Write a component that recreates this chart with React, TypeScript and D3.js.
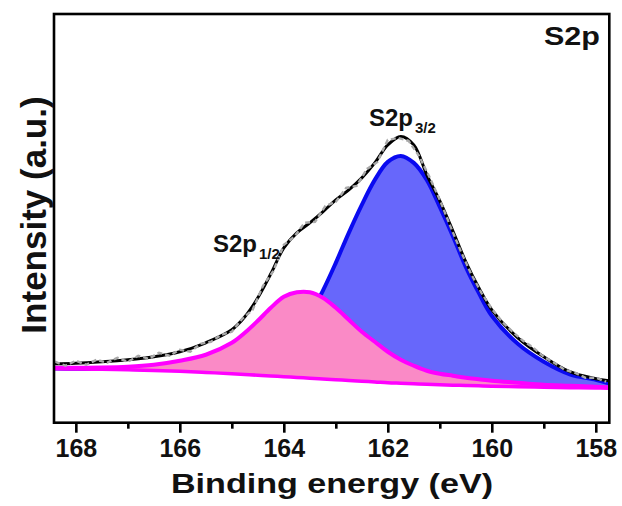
import { useEffect, useRef } from "react";
import * as d3 from "d3";

// binding energy grid (eV) used for the fitted curves
const energy = [
  168.4, 168.0, 167.5, 167.0, 166.5, 166.0, 165.5, 165.0, 164.75, 164.5, 164.25,
  164.0, 163.75, 163.5, 163.25, 163.0, 162.75, 162.5, 162.25, 162.0, 161.75,
  161.5, 161.25, 161.0, 160.75, 160.5, 160.25, 160.0, 159.5, 159.0, 158.5, 158.0,
  157.75,
];

// background (a.u.)
const background = [
  54, 53.7, 53.4, 53, 52.3, 51.5, 50.3, 49, 48.3, 47.5, 46.8, 46, 45.3, 44.5, 43.8,
  43, 42.3, 41.5, 40.8, 40, 39.5, 39, 38.5, 38, 37.6, 37.3, 36.9, 36.5, 36, 35.5,
  35.1, 34.7, 34.5,
];

// S2p1/2 component (pink)
const s2p12 = [
  55, 55, 55.2, 56, 58, 62, 68, 80, 90, 102, 115, 126, 130.5, 130.5, 125, 115, 103,
  91, 81, 71, 63, 57, 52, 49, 47, 45, 43.5, 42, 40, 38, 37, 36, 35.5,
];

// S2p3/2 component (blue)
const s2p32 = [
  54.2, 54, 53.8, 53.7, 53.5, 53.5, 53.5, 55, 57, 61, 67, 76, 89, 108, 132, 160,
  190, 218, 243, 261, 267, 260, 243, 216, 187, 156, 130, 107, 79, 61, 48.5, 43,
  39.5,
];

// cumulative fit (black)
const envelope = [
  59, 59.5, 61, 63, 66, 71, 80, 93, 106, 125, 149, 175, 190, 200, 211, 223, 233,
  245, 260, 278, 286.5, 278, 248, 222, 192, 161, 135, 113, 85, 66, 51, 44, 42,
];

// measured spectrum (grey)
const rawEnergy = [
  168.4, 168.2, 168.0, 167.8, 167.6, 167.4, 167.2, 167.0, 166.8, 166.6, 166.4,
  166.2, 166.0, 165.8, 165.6, 165.4, 165.2, 165.0, 164.8, 164.6, 164.4, 164.2,
  164.0, 163.8, 163.6, 163.4, 163.2, 163.0, 162.8, 162.6, 162.4, 162.2, 162.0,
  161.8, 161.6, 161.4, 161.2, 161.0, 160.8, 160.6, 160.4, 160.2, 160.0, 159.8,
  159.6, 159.4, 159.2, 159.0, 158.8, 158.6, 158.4, 158.2, 158.0, 157.8,
];
const rawIntensity = [
  61, 57, 62, 58, 63, 60, 65, 61, 67, 64, 70, 67, 73, 71, 79, 81, 88, 91, 104, 113,
  137, 152, 178, 186, 200, 201, 217, 221, 235, 237, 254, 261, 283, 285, 282, 267,
  246, 223, 197, 172, 149, 130, 114, 101, 91, 82, 75, 66, 60, 53, 50, 45, 45, 41,
];

const majorTicks = [168, 166, 164, 162, 160, 158];
const minorTicks = [167, 165, 163, 161, 159];

const FONT = "'Liberation Sans', Arial, sans-serif";

export default function App() {
  const svgRef = useRef<SVGSVGElement>(null);

  useEffect(() => {
    const width = 622;
    const height = 506;
    const svg = d3.select(svgRef.current).attr("width", width).attr("height", height);
    svg.selectAll("*").remove();

    const margin = { top: 14, right: 12.7, bottom: 83.3, left: 54 };
    const w = width - margin.left - margin.right;
    const h = height - margin.top - margin.bottom;

    const x = d3.scaleLinear().domain([168.42, 157.74]).range([0, w]);
    const y = d3.scaleLinear().domain([0, 409]).range([h, 0]);

    const chart = svg.append("g").attr("transform", `translate(${margin.left},${margin.top})`);

    chart.append("clipPath").attr("id", "plot-clip")
      .append("rect").attr("width", w).attr("height", h);

    const plot = chart.append("g").attr("clip-path", "url(#plot-clip)");

    const idx = energy.map((_, i) => i);
    const area = (vals: number[]) =>
      d3.area<number>()
        .x(i => x(energy[i]))
        .y0(i => y(background[i]))
        .y1(i => y(vals[i]))
        .curve(d3.curveCatmullRom);
    const line = (vals: number[]) =>
      d3.line<number>()
        .x(i => x(energy[i]))
        .y(i => y(vals[i]))
        .curve(d3.curveCatmullRom);

    // S2p3/2 component
    plot.append("path").datum(idx).attr("d", area(s2p32)).attr("fill", "#6767fb");
    plot.append("path").datum(idx).attr("d", line(s2p32))
      .attr("fill", "none").attr("stroke", "#0a0af0").attr("stroke-width", 4);

    // S2p1/2 component, outlined along the background too
    plot.append("path").datum(idx).attr("d", area(s2p12)).attr("fill", "#fa8ac6");
    plot.append("path").datum(idx).attr("d", line(s2p12))
      .attr("fill", "none").attr("stroke", "#ff00ff").attr("stroke-width", 4);
    plot.append("path").datum(idx).attr("d", line(background))
      .attr("fill", "none").attr("stroke", "#ff00ff").attr("stroke-width", 3.5);

    // envelope
    plot.append("path").datum(idx).attr("d", line(envelope))
      .attr("fill", "none").attr("stroke", "#000").attr("stroke-width", 3);

    // raw data
    plot.append("path").datum(rawEnergy.map((_, i) => i))
      .attr("d", d3.line<number>()
        .x(i => x(rawEnergy[i]))
        .y(i => y(rawIntensity[i]))
        .curve(d3.curveLinear))
      .attr("fill", "none").attr("stroke", "#a9a9a9").attr("stroke-width", 2.4)
      .attr("stroke-dasharray", "5,3");

    // frame
    chart.append("rect").attr("width", w).attr("height", h)
      .attr("fill", "none").attr("stroke", "#000").attr("stroke-width", 2.6);

    // x axis
    const xAxis = chart.append("g").attr("transform", `translate(0,${h})`)
      .call(d3.axisBottom(x).tickValues(majorTicks).tickSize(10).tickPadding(6.5).tickFormat(d3.format("d")));
    xAxis.select(".domain").remove();
    xAxis.selectAll("line").attr("stroke", "#000").attr("stroke-width", 2.6);
    xAxis.selectAll("text")
      .attr("font-family", FONT).attr("font-weight", "bold").attr("font-size", 25).attr("fill", "#111");

    const minor = chart.append("g").attr("transform", `translate(0,${h})`)
      .call(d3.axisBottom(x).tickValues(minorTicks).tickSize(6).tickFormat(() => ""));
    minor.select(".domain").remove();
    minor.selectAll("line").attr("stroke", "#000").attr("stroke-width", 2.6);

    // axis titles
    svg.append("text")
      .attr("x", 332).attr("y", 493)
      .attr("text-anchor", "middle")
      .attr("font-family", FONT).attr("font-weight", "bold").attr("font-size", 28)
      .attr("textLength", 322).attr("lengthAdjust", "spacingAndGlyphs")
      .attr("fill", "#111")
      .text("Binding energy (eV)");

    svg.append("text")
      .attr("transform", "translate(46,215) rotate(-90)")
      .attr("text-anchor", "middle")
      .attr("font-family", FONT).attr("font-weight", "bold").attr("font-size", 35)
      .attr("fill", "#111")
      .text("Intensity (a.u.)");

    // panel label
    svg.append("text")
      .attr("x", 600).attr("y", 45)
      .attr("text-anchor", "end")
      .attr("font-family", FONT).attr("font-weight", "bold").attr("font-size", 26)
      .attr("textLength", 56).attr("lengthAdjust", "spacingAndGlyphs")
      .attr("fill", "#111")
      .text("S2p");

    // peak labels
    const peakLabel = (px: number, py: number, sub: string) => {
      const t = svg.append("text")
        .attr("x", px).attr("y", py)
        .attr("font-family", FONT).attr("font-weight", "bold").attr("font-size", 24)
        .attr("fill", "#111");
      t.append("tspan").text("S2p");
      t.append("tspan").attr("dx", 2).attr("dy", 7).attr("font-size", 15).text(sub);
    };
    peakLabel(369, 126, "3/2");
    peakLabel(213, 252, "1/2");
  }, []);

  return (
    <svg
      ref={svgRef}
      style={{ position: "absolute", left: 0, top: 0, display: "block", background: "#fff" }}
    />
  );
}
